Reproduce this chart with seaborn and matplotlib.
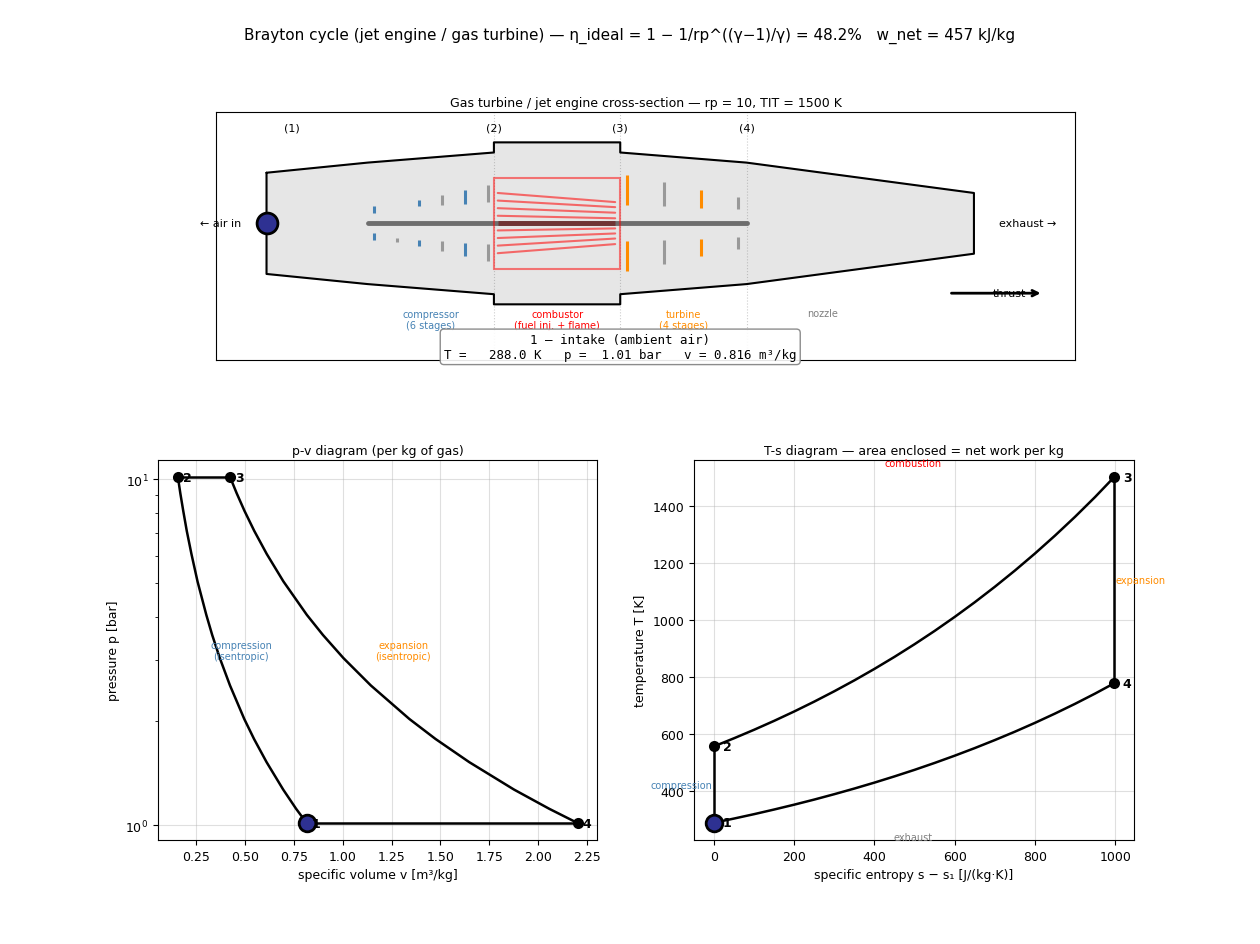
import matplotlib
matplotlib.use("Agg")
import matplotlib.pyplot as plt
from matplotlib.patches import Rectangle
import pandas as pd
import seaborn as sns

sns.set_style("ticks")
plt.rcParams.update({
    "font.family": ["DejaVu Sans"],
    "axes.edgecolor": "black",
    "xtick.color": "black",
    "ytick.color": "black",
    "text.color": "black",
    "axes.labelcolor": "black",
    "xtick.direction": "out",
    "ytick.direction": "out",
})

# Cycle state points (1 to 4)
STATE_V = [0.816, 0.158, 0.425, 2.201]
STATE_P = [1.013, 10.13, 10.13, 1.013]
STATE_S = [0, 0, 997, 997]
STATE_T = [288.0, 556.0, 1500.0, 776.9]
STATE_NAMES = ["1", "2", "3", "4"]

# Isentropic legs of the p-v diagram
LEG_P = [1.013, 1.114, 1.266, 1.520, 1.773, 2.026, 2.533, 3.039, 3.546,
         4.052, 5.065, 6.078, 7.091, 8.104, 9.117, 10.13]
COMPRESSION_V = [0.816, 0.762, 0.696, 0.611, 0.547, 0.497, 0.424, 0.372, 0.333,
                 0.303, 0.258, 0.227, 0.203, 0.185, 0.170, 0.158]
EXPANSION_V = [2.201, 2.056, 1.876, 1.647, 1.475, 1.341, 1.144, 1.004, 0.899,
               0.817, 0.697, 0.612, 0.548, 0.498, 0.458, 0.425]

# Constant-pressure legs of the T-s diagram
LEG_S = [0, 50, 100, 150, 200, 250, 300, 350, 400, 450, 500, 550, 600, 650,
         700, 750, 800, 850, 900, 950, 997]
COMBUSTION_T = [556.0, 584.4, 614.2, 645.5, 678.4, 713.0, 749.4, 787.6, 827.8,
                870.0, 914.4, 961.0, 1010.1, 1061.6, 1115.8, 1172.7, 1232.5,
                1295.4, 1361.4, 1430.9, 1500.0]
EXHAUST_T = [288.0, 302.7, 318.1, 334.4, 351.4, 369.3, 388.2, 408.0, 428.8,
             450.7, 473.6, 497.8, 523.2, 549.9, 578.0, 607.4, 638.4, 671.0,
             705.2, 741.2, 776.9]

# Engine casing: axial stations and half heights
CASING_X = [0.0, 0.8, 1.8, 1.8, 2.8, 2.8, 3.8, 5.6]
CASING_R = [0.50, 0.60, 0.70, 0.80, 0.80, 0.70, 0.60, 0.30]

# Blade rows: axial position, upper span, lower span
COMP_X = [0.85, 1.03, 1.21, 1.39, 1.57, 1.75]
COMP_UPPER = [(0.10, 0.17), None, (0.17, 0.23), (0.18, 0.28), (0.19, 0.33), (0.21, 0.38)]
COMP_LOWER = [(-0.10, -0.165), (-0.145, -0.185), (-0.165, -0.225), (-0.175, -0.275),
              (-0.195, -0.325), (-0.205, -0.375)]
TURB_X = [2.85, 3.143, 3.437, 3.73]
TURB_UPPER = [(0.18, 0.48), (0.17, 0.41), (0.155, 0.33), (0.14, 0.26)]
TURB_LOWER = [(-0.175, -0.475), (-0.165, -0.405), (-0.155, -0.325), (-0.135, -0.255)]

# Fuel spray streaks inside the combustor
FLAME_X = [1.83, 2.76]
FLAME_START = [0.30, 0.225, 0.15, 0.075, -0.07, -0.145, -0.22, -0.295]
FLAME_END = [0.21, 0.16, 0.105, 0.05, -0.05, -0.10, -0.15, -0.205]

STATION_X = [1.8, 2.8, 3.8]
STATION_LABEL_X = [0.2, 1.8, 2.8, 3.8]
STATION_LABELS = ["(1)", "(2)", "(3)", "(4)"]

BLUE = "#4682b4"
ORANGE = "#ff8c00"
GREY = "#999999"
NAVY = "#2e3192"
W, H = 1260, 945


def axes_from_pixels(fig, left, top, right, bottom):
    return fig.add_axes([left / W, 1 - bottom / H, (right - left) / W, (bottom - top) / H])


def draw_leg(ax, x, y):
    sns.lineplot(x=x, y=y, ax=ax, color="black", linewidth=1.8, sort=False,
                 estimator=None, errorbar=None, legend=False, zorder=3)


def draw_states(ax, x, y):
    frame = pd.DataFrame({"x": x, "y": y})
    sns.scatterplot(data=frame, x="x", y="y", ax=ax, color="black", s=64,
                    linewidth=0, legend=False, zorder=4)
    ax.plot(x[0], y[0], "o", ms=12, mfc=NAVY, mec="black", mew=2, zorder=5)


fig = plt.figure(figsize=(12.6, 9.45), dpi=100, facecolor="white")
fig.text(0.5, 1 - 36 / H, "Brayton cycle (jet engine / gas turbine) \u2014 \u03b7_ideal = 1 \u2212 "
         "1/rp^((\u03b3\u22121)/\u03b3) = 48.2%   w_net = 457 kJ/kg",
         ha="center", va="center", fontsize=11)

# Engine cross-section
ax = axes_from_pixels(fig, 216, 113, 1075, 361)
ax.set_xlim(-0.4, 6.4)
ax.set_ylim(-1.35, 1.1)
ax.set_xticks([])
ax.set_yticks([])
ax.set_title("Gas turbine / jet engine cross-section \u2014 rp = 10, TIT = 1500 K", fontsize=9, pad=4)

outline_x = CASING_X + CASING_X[::-1] + CASING_X[:1]
outline_y = CASING_R + [-r for r in CASING_R[::-1]] + CASING_R[:1]
ax.fill(outline_x, outline_y, color="#e6e6e6", zorder=1)
ax.plot(outline_x, outline_y, color="black", lw=1.5, zorder=3)

for x in STATION_X:
    ax.axvline(x, color="gray", ls=":", lw=0.8, alpha=0.4, zorder=2)
for x, label in zip(STATION_LABEL_X, STATION_LABELS):
    ax.text(x, 0.95, label, ha="center", va="center", fontsize=8)

ax.plot([0.8, 3.8], [0, 0], color="#6e6e6e", lw=3.5, zorder=4)
ax.plot(FLAME_X, [0, 0], color="#703434", lw=3.5, solid_capstyle="butt", zorder=5)

for i, x in enumerate(COMP_X):
    colour = BLUE if i % 2 == 0 else GREY
    if i == 1:
        colour = GREY
    for span in (COMP_UPPER[i], COMP_LOWER[i]):
        if span is not None:
            ax.plot([x, x], span, color=colour, lw=2.2, solid_capstyle="butt", zorder=4)
for i, x in enumerate(TURB_X):
    colour = ORANGE if i % 2 == 0 else GREY
    for span in (TURB_UPPER[i], TURB_LOWER[i]):
        ax.plot([x, x], span, color=colour, lw=2.2, solid_capstyle="butt", zorder=4)

ax.add_patch(Rectangle((1.8, -0.45), 1.0, 0.9, fill=False, edgecolor="red", lw=1.5,
                       alpha=0.5, zorder=5))
for start, end in zip(FLAME_START, FLAME_END):
    ax.plot(FLAME_X, [start, end], color="red", lw=1.5, alpha=0.55, zorder=5)

ax.text(-0.2, 0, "\u2190 air in", ha="right", va="center", fontsize=8, zorder=6)
ax.text(5.8, 0, "exhaust \u2192", ha="left", va="center", fontsize=8)
ax.annotate("", xy=(6.15, -0.69), xytext=(5.4, -0.69),
            arrowprops=dict(arrowstyle="->", color="black", lw=2))
ax.text(5.88, -0.69, "thrust", ha="center", va="center", fontsize=8)

ax.text(1.3, -0.95, "compressor\n(6 stages)", ha="center", va="center", fontsize=7, color=BLUE)
ax.text(2.3, -0.95, "combustor\n(fuel inj. + flame)", ha="center", va="center", fontsize=7, color="red")
ax.text(3.3, -0.95, "turbine\n(4 stages)", ha="center", va="center", fontsize=7, color=ORANGE)
ax.text(4.4, -0.89, "nozzle", ha="center", va="center", fontsize=7, color="gray")

ax.plot(0, 0, "o", ms=15, mfc=NAVY, mec="black", mew=2, zorder=7, clip_on=False)
ax.text(2.8, -1.22, "1 \u2014 intake (ambient air)\nT =   288.0 K   p =  1.01 bar   v = 0.816 m\u00b3/kg",
        ha="center", va="center", fontsize=9, family="monospace", zorder=8, clip_on=False,
        bbox=dict(boxstyle="round,pad=0.3", fc="white", ec="gray", alpha=0.9))

# p-v diagram
ax = axes_from_pixels(fig, 158, 461, 597, 841)
ax.set_yscale("log")
draw_leg(ax, COMPRESSION_V, LEG_P)
draw_leg(ax, EXPANSION_V, LEG_P)
draw_leg(ax, STATE_V[1:3], STATE_P[1:3])
draw_leg(ax, [STATE_V[3], STATE_V[0]], [STATE_P[3], STATE_P[0]])
draw_states(ax, STATE_V, STATE_P)
ax.set_xlim(0.056, 2.30)
ax.set_ylim(0.905, 11.37)
ax.set_xticks([0.25, 0.50, 0.75, 1.00, 1.25, 1.50, 1.75, 2.00, 2.25])
ax.grid(True, which="major", color="#b0b0b0", lw=0.8, alpha=0.4)
ax.set_axisbelow(True)
ax.set_title("p-v diagram (per kg of gas)", fontsize=9, pad=4)
ax.set_xlabel("specific volume v [m\u00b3/kg]", fontsize=9, labelpad=4)
ax.set_ylabel("pressure p [bar]", fontsize=9, labelpad=4)
ax.tick_params(labelsize=9)
for v, p, name in zip(STATE_V, STATE_P, STATE_NAMES):
    ax.text(v + 0.025, p, name, ha="left", va="center", fontsize=9, fontweight="bold", zorder=6)
ax.text(0.48, 3.2, "compression\n(isentropic)", ha="center", va="center", fontsize=7, color=BLUE)
ax.text(1.31, 3.2, "expansion\n(isentropic)", ha="center", va="center", fontsize=7, color=ORANGE)

# T-s diagram
ax = axes_from_pixels(fig, 694, 461, 1134, 841)
draw_leg(ax, LEG_S, COMBUSTION_T)
draw_leg(ax, LEG_S, EXHAUST_T)
draw_leg(ax, STATE_S[:2], STATE_T[:2])
draw_leg(ax, STATE_S[2:], STATE_T[2:])
draw_states(ax, STATE_S, STATE_T)
ax.set_xlim(-49.9, 1046.9)
ax.set_ylim(227.4, 1560.6)
ax.grid(True, which="major", color="#b0b0b0", lw=0.8, alpha=0.4)
ax.set_axisbelow(True)
ax.set_title("T-s diagram \u2014 area enclosed = net work per kg", fontsize=9, pad=4)
ax.set_xlabel("specific entropy s \u2212 s\u2081 [J/(kg\u00b7K)]", fontsize=9, labelpad=4)
ax.set_ylabel("temperature T [K]", fontsize=9, labelpad=4)
ax.tick_params(labelsize=9)
for s, t, name in zip(STATE_S, STATE_T, STATE_NAMES):
    ax.text(s + 22, t, name, ha="left", va="center", fontsize=9, fontweight="bold", zorder=6)
ax.text(497, 1550, "combustion", ha="center", va="center", fontsize=7, color="red")
ax.text(497, 238, "exhaust", ha="center", va="center", fontsize=7, color="gray")
ax.text(-3, 420, "compression", ha="right", va="center", fontsize=7, color=BLUE)
ax.text(1000, 1140, "expansion", ha="left", va="center", fontsize=7, color=ORANGE)

fig.savefig("out.png", dpi=100)
